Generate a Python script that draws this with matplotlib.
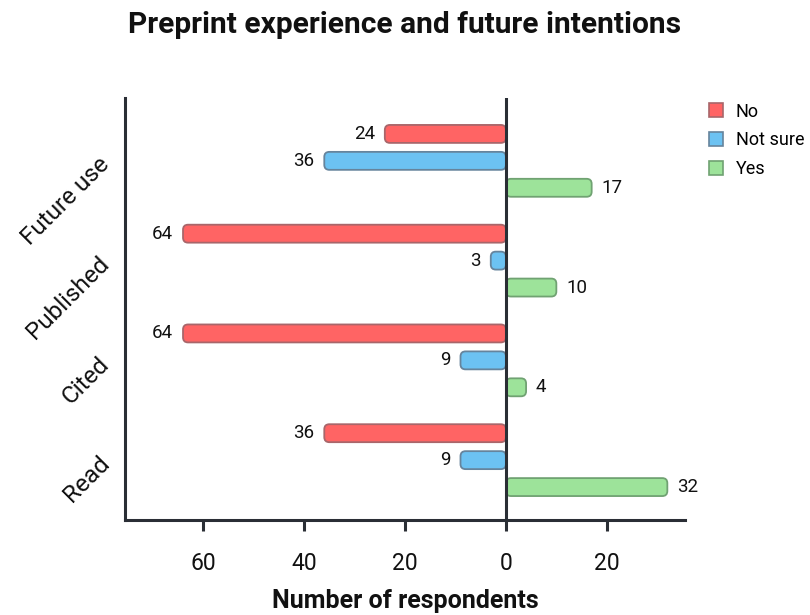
import matplotlib
matplotlib.use("Agg")
import matplotlib.pyplot as plt
from matplotlib.patches import FancyBboxPatch, Patch
import numpy as np

categories = ["Read", "Cited", "Published", "Future use"]
no_vals = [36, 64, 64, 24]
notsure_vals = [9, 9, 3, 36]
yes_vals = [32, 4, 10, 17]
series_names = ["No", "Not sure", "Yes"]
xtick_vals = [-60, -40, -20, 0, 20]
xtick_labels = ["60", "40", "20", "0", "20"]

face = {"No": "#ff6464", "Not sure": "#6cc2f2", "Yes": "#9de39a"}
edge = {"No": "#a8666a", "Not sure": "#66849c", "Yes": "#70a272"}

plt.rcParams["font.family"] = ["Roboto", "DejaVu Sans"]
dark = "#2a2e35"

fig = plt.figure(figsize=(8.1, 6.15), dpi=100)
ax = fig.add_axes([125/810, 1-520/615, 560/810, 422/615])
ax.set_xlim(-75.5, 35.5)
ax.set_ylim(-0.6, 3.63)

bh = 0.18
offs = {"No": 0.27, "Not sure": 0.0, "Yes": -0.27}
sign = {"No": -1, "Not sure": -1, "Yes": 1}
data = {"No": no_vals, "Not sure": notsure_vals, "Yes": yes_vals}
aspect = (4.23 / 422) / (111 / 560)
for name in series_names:
    for i, v in enumerate(data[name]):
        y = i + offs[name]
        x0 = 0 if sign[name] > 0 else -v
        p = FancyBboxPatch((x0, y - bh/2), v, bh,
                           boxstyle="round,pad=0,rounding_size=1.0",
                           mutation_aspect=aspect,
                           facecolor=face[name], edgecolor=edge[name],
                           linewidth=1.3, zorder=2)
        ax.add_patch(p)
        xt = sign[name] * v
        ax.annotate(str(v), (xt, y), xytext=(sign[name]*7, 0),
                    textcoords="offset points",
                    ha="left" if sign[name] > 0 else "right",
                    va="center", fontsize=13.5, color="#111111")

ax.axvline(0, color=dark, lw=2.2, zorder=3)
for s in ["top", "right"]:
    ax.spines[s].set_visible(False)
for s in ["left", "bottom"]:
    ax.spines[s].set_color(dark)
    ax.spines[s].set_linewidth(2.2)

ax.set_xticks(xtick_vals)
ax.set_xticklabels(xtick_labels)
ax.tick_params(axis="x", length=8, width=2.2, color=dark, pad=15,
               labelsize=16.5, labelcolor="#111111")
ax.set_yticks(range(len(categories)))
ax.set_yticklabels(categories, rotation=45, ha="right", va="center",
                   rotation_mode="anchor")
ax.tick_params(axis="y", length=0, pad=14, labelsize=17.5, labelcolor="#111111")

ax.set_xlabel("Number of respondents", fontsize=18, fontweight="bold",
              labelpad=10, color="#111111")
fig.text(0.5, 1-25/615, "Preprint experience and future intentions",
         ha="center", va="center", fontsize=21.5, fontweight="bold",
         color="#111111")

handles = [Patch(facecolor=face[n], edgecolor=edge[n], linewidth=1.2)
           for n in series_names]
fig.legend(handles, series_names, loc="upper left",
           bbox_to_anchor=(696/810, 1-90/615), frameon=False,
           fontsize=13, handlelength=0.8, handleheight=0.8,
           handletextpad=0.7, labelspacing=0.6, borderaxespad=0.3)

fig.savefig("out.png", dpi=100)
